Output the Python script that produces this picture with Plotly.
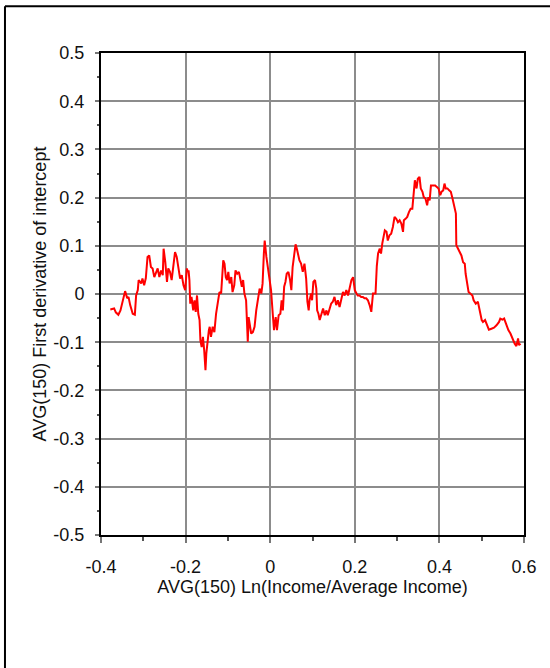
import plotly.graph_objects as go

# AVG(150) Ln(Income/Average Income)
x_vals = [
    -0.378, -0.369, -0.365, -0.359, -0.354, -0.349, -0.343, -0.338, -0.335, -0.331,
    -0.325, -0.320, -0.317, -0.313, -0.311, -0.305, -0.302, -0.298, -0.294, -0.290,
    -0.286, -0.282, -0.278, -0.274, -0.270, -0.266, -0.262, -0.258, -0.254, -0.252,
    -0.248, -0.244, -0.241, -0.237, -0.233, -0.229, -0.225, -0.221, -0.217, -0.213,
    -0.209, -0.205, -0.201, -0.197, -0.195,
    -0.193, -0.191, -0.189, -0.186, -0.182, -0.179, -0.176, -0.173, -0.170, -0.167,
    -0.165, -0.162, -0.159, -0.156, -0.153, -0.151, -0.148, -0.145, -0.143, -0.140,
    -0.136, -0.132, -0.128, -0.124, -0.120, -0.116, -0.114, -0.111, -0.108, -0.105,
    -0.102, -0.099, -0.096, -0.092, -0.089, -0.085, -0.082, -0.078, -0.074, -0.070,
    -0.067, -0.064, -0.061, -0.057, -0.053, -0.051, -0.048, -0.045, -0.041, -0.037,
    -0.033, -0.029, -0.025, -0.021, -0.018, -0.015, -0.013, -0.009, -0.006, -0.002,
    0.002,
    0.006, 0.009, 0.013, 0.016, 0.020, 0.024, 0.027, 0.030, 0.033, 0.036,
    0.039, 0.043, 0.047, 0.050, 0.053, 0.057, 0.060, 0.063, 0.066, 0.069,
    0.073, 0.077, 0.081, 0.085, 0.088, 0.091, 0.093, 0.097, 0.099, 0.102,
    0.106, 0.109, 0.111, 0.114, 0.117, 0.121, 0.125, 0.129, 0.133, 0.136,
    0.140, 0.144, 0.148, 0.152, 0.156, 0.160, 0.164, 0.168, 0.172, 0.176,
    0.180, 0.184, 0.188, 0.192, 0.196, 0.200, 0.204, 0.207, 0.211, 0.215,
    0.219, 0.223, 0.227, 0.231, 0.235, 0.239, 0.243, 0.249,
    0.252, 0.255, 0.259, 0.262, 0.265, 0.268, 0.271, 0.275, 0.278, 0.282,
    0.286, 0.290, 0.294, 0.298, 0.302, 0.306, 0.310, 0.314, 0.316, 0.320,
    0.324, 0.328, 0.332, 0.336, 0.339, 0.342, 0.346, 0.349, 0.353, 0.356,
    0.360, 0.363, 0.367, 0.371, 0.374, 0.377, 0.380, 0.385, 0.390, 0.394,
    0.398, 0.402, 0.405, 0.409, 0.412, 0.415, 0.419, 0.423, 0.427, 0.431,
    0.435, 0.439, 0.440, 0.444, 0.448, 0.452, 0.456, 0.460, 0.462, 0.465,
    0.469, 0.473, 0.478, 0.481, 0.486, 0.491, 0.494, 0.497, 0.500, 0.503,
    0.508, 0.513, 0.517, 0.523, 0.529, 0.535, 0.541, 0.544, 0.549, 0.553,
    0.557, 0.560, 0.563, 0.568, 0.571, 0.574, 0.578, 0.582, 0.586, 0.588,
    0.592,
]

# AVG(150) First derivative of intercept
y_vals = [
    -0.032, -0.030, -0.038, -0.043, -0.034, -0.016, 0.006, -0.009, -0.006, -0.023,
    -0.041, -0.043, -0.003, 0.008, 0.029, 0.022, 0.032, 0.018, 0.033, 0.077,
    0.080, 0.056, 0.053, 0.035, 0.046, 0.053, 0.035, 0.049, 0.039, 0.094,
    0.066, 0.025, 0.053, 0.046, 0.029, 0.060, 0.087, 0.077, 0.056, 0.032,
    0.039, 0.018, 0.008, 0.053, 0.046,
    0.049, 0.029, -0.020, -0.006, -0.034, -0.013, -0.037, -0.003, -0.041, -0.054,
    -0.096, -0.110, -0.089, -0.117, -0.158, -0.123, -0.096, -0.075, -0.068, -0.089,
    -0.068, -0.079, -0.041, -0.013, 0.004, 0.001, 0.042, 0.070, 0.063, 0.035,
    0.029, 0.046, 0.022, 0.035, 0.004, 0.018, 0.049, 0.042, 0.046, 0.029,
    0.015, 0.029, 0.001, -0.013, -0.099, -0.048, -0.068, -0.082, -0.079, -0.068,
    -0.034, -0.006, 0.011, 0.001, 0.022, 0.084, 0.111, 0.077, 0.056, 0.035,
    0.008,
    -0.041, -0.075, -0.048, -0.075, -0.044, -0.041, -0.013, -0.034, 0.015, 0.025,
    0.042, 0.046, 0.029, 0.008, 0.056, 0.091, 0.103, 0.094, 0.080, 0.070,
    0.063, 0.046, 0.063, 0.032, -0.016, -0.034, -0.013, 0.001, -0.013, 0.025,
    0.029, 0.011, -0.034, -0.041, -0.054, -0.041, -0.030, -0.044, -0.034, -0.044,
    -0.030, -0.020, -0.016, -0.006, -0.023, -0.013, -0.027, -0.009, 0.004, -0.003,
    0.008, -0.003, 0.011, 0.029, 0.035, 0.008, 0.001, -0.003, -0.003, -0.006,
    -0.006, -0.009, -0.009, -0.013, -0.023, -0.037, 0.001, 0.001,
    0.058, 0.084, 0.094, 0.084, 0.105, 0.118, 0.132, 0.129, 0.111, 0.122,
    0.125, 0.139, 0.160, 0.156, 0.149, 0.153, 0.146, 0.129, 0.153, 0.156,
    0.160, 0.170, 0.177, 0.177, 0.201, 0.236, 0.219, 0.239, 0.243, 0.219,
    0.212, 0.201, 0.198, 0.184, 0.201, 0.194, 0.225, 0.225, 0.225, 0.222,
    0.219, 0.205, 0.212, 0.215, 0.229, 0.219, 0.219, 0.215, 0.212, 0.198,
    0.184, 0.167, 0.101, 0.094, 0.087, 0.080, 0.066, 0.063, 0.042, 0.025,
    0.004, 0.001, -0.003, -0.013, -0.020, -0.016, -0.027, -0.041, -0.054, -0.058,
    -0.054, -0.065, -0.074, -0.072, -0.070, -0.065, -0.058, -0.051, -0.053, -0.051,
    -0.061, -0.065, -0.075, -0.082, -0.089, -0.092, -0.103, -0.108, -0.092, -0.106,
    -0.103,
]

x_ticks = [-0.4, -0.2, 0, 0.2, 0.4, 0.6]
x_tick_labels = ["-0.4", "-0.2", "0", "0.2", "0.4", "0.6"]
y_ticks = [0.5, 0.4, 0.3, 0.2, 0.1, 0, -0.1, -0.2, -0.3, -0.4, -0.5]
y_tick_labels = ["0.5", "0.4", "0.3", "0.2", "0.1", "0", "-0.1", "-0.2", "-0.3", "-0.4", "-0.5"]

FONT = "Liberation Sans, Arial, sans-serif"
FS = 18

fig = go.Figure()
fig.add_trace(go.Scatter(
    x=x_vals, y=y_vals, mode="lines",
    line=dict(color="#ff0000", width=2),
    hoverinfo="skip", showlegend=False,
))

grid = "#8c8c8c"
fig.update_xaxes(
    range=[-0.4, 0.6], tickvals=x_ticks, ticktext=x_tick_labels,
    showgrid=True, gridcolor=grid, gridwidth=2, zeroline=False,
    showline=True, linecolor="black", linewidth=2, mirror=True,
    ticks="outside", ticklen=6, tickcolor="#777", tickwidth=1.5,
    ticklabelstandoff=8,
    minor=dict(tickvals=[-0.3, -0.1, 0.1, 0.3, 0.5], ticks="outside", ticklen=4,
               tickcolor="#555", showgrid=False),
    tickfont=dict(family=FONT, size=FS, color="#111"),
    title=dict(text="AVG(150) Ln(Income/Average Income)",
               font=dict(family=FONT, size=FS, color="#111"), standoff=2),
)
fig.update_yaxes(
    range=[-0.5, 0.5], tickvals=y_ticks, ticktext=y_tick_labels,
    showgrid=True, gridcolor=grid, gridwidth=2, zeroline=False,
    showline=True, linecolor="black", linewidth=2, mirror=True,
    ticks="outside", ticklen=4, tickcolor="#777", tickwidth=1.5,
    ticklabelstandoff=7,
    minor=dict(tickvals=[0.45, 0.35, 0.25, 0.15, 0.05, -0.05, -0.15, -0.25, -0.35, -0.45],
               ticks="outside", ticklen=2, tickcolor="#555", showgrid=False),
    tickfont=dict(family=FONT, size=FS, color="#111"),
    title=dict(text="AVG(150) First derivative of intercept",
               font=dict(family=FONT, size=FS, color="#111"), standoff=2),
)

# outer chart frame (left and top edges visible in the reference)
fig.add_shape(type="line", xref="paper", yref="paper",
              x0=-0.227, x1=-0.227, y0=1.097, y1=-0.30,
              line=dict(color="black", width=2))
fig.add_shape(type="line", xref="paper", yref="paper",
              x0=-0.227, x1=1.07, y0=1.097, y1=1.097,
              line=dict(color="black", width=2))

fig.update_layout(
    width=550, height=668,
    margin=dict(l=101, r=26, t=53, b=133, autoexpand=False),
    paper_bgcolor="white", plot_bgcolor="white",
    font=dict(family=FONT, size=FS, color="#111"),
)

fig.write_html(
    "out.html",
    config={"displayModeBar": False},
    post_script="document.body.style.margin='0';document.body.style.overflow='hidden';",
)
